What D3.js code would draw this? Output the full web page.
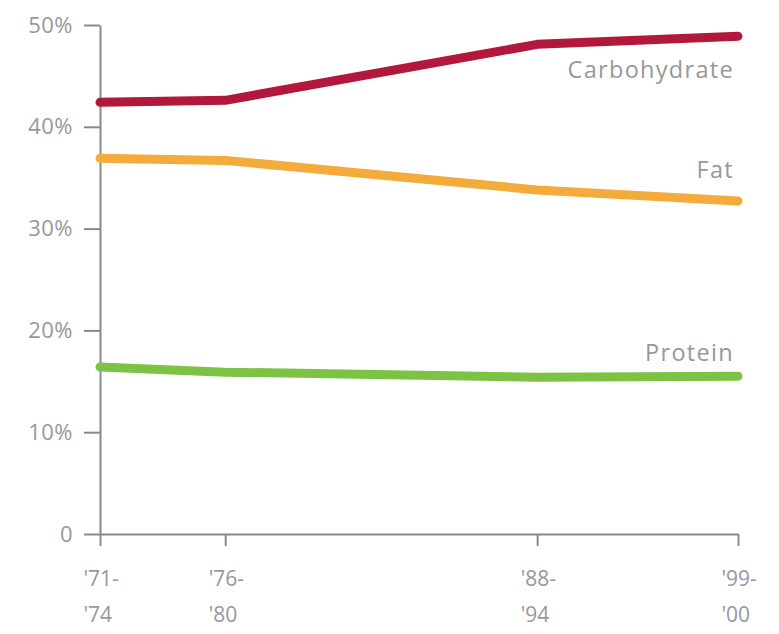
<!DOCTYPE html>
<html>
<head>
<meta charset="utf-8">
<script src="https://cdn.jsdelivr.net/npm/d3@7"></script>
<style>
  html, body { margin: 0; padding: 0; background: #fff; }
  svg { display: block; }
  text { font-family: "Open Sans", "Noto Sans", sans-serif; }
</style>
</head>
<body>
<svg id="chart" width="779" height="634"></svg>
<script>
// ---- data ----
const periods = ["'71-\n'74", "'76-\n'80", "'88-\n'94", "'99-\n'00"];
const periodMid = [1972.5, 1977.8, 1991, 1999.5];
const carbohydrate = [42.4, 42.6, 48.1, 48.9];
const fat = [36.9, 36.7, 33.8, 32.7];
const protein = [16.4, 15.9, 15.4, 15.5];
const yTicks = [0, 10, 20, 30, 40, 50];
const seriesNames = ["Carbohydrate", "Fat", "Protein"];
const seriesColors = ["#b2183b", "#f3ab3c", "#7cc243"];

const FONT = "'Open Sans', 'Noto Sans', sans-serif";
const svg = d3.select("#chart");
const x = d3.scaleLinear().domain([1972.5, 1999.5]).range([100, 738]);
const y = d3.scaleLinear().domain([0, 50]).range([534, 25]);
const axisColor = "#8a8a8a";
const textColor = "#989898";

// y axis
const gy = svg.append("g").attr("transform", "translate(100,0)")
  .call(d3.axisLeft(y).tickValues(yTicks).tickSize(16).tickSizeOuter(0)
    .tickFormat(d => d === 0 ? "0" : d + "%"));
gy.attr("font-family", FONT);
gy.select(".domain").attr("stroke", axisColor).attr("stroke-width", 2);
gy.selectAll(".tick line").attr("stroke", axisColor).attr("stroke-width", 2);
gy.selectAll(".tick text").attr("fill", textColor).attr("font-size", 22)
  .attr("font-family", FONT).attr("letter-spacing", 0.5).attr("x", -27);

// x axis
const gx = svg.append("g").attr("transform", "translate(0,534)")
  .call(d3.axisBottom(x).tickValues(periodMid).tickSize(12).tickSizeOuter(0).tickFormat(""));
gx.attr("font-family", FONT);
gx.select(".domain").attr("stroke", axisColor).attr("stroke-width", 2);
gx.selectAll(".tick line").attr("stroke", axisColor).attr("stroke-width", 2);
gx.selectAll(".tick").each(function(d, i) {
  const lines = periods[i].split("\n");
  const t = d3.select(this).append("text")
    .attr("fill", textColor).attr("font-size", 21).attr("font-family", FONT)
    .attr("text-anchor", "start");
  lines.forEach((l, j) => {
    t.append("tspan").attr("x", -17).attr("y", 52 + j * 36).text(l);
  });
});

// lines
const allSeries = [carbohydrate, fat, protein];
const line = d3.line()
  .x((d, i) => x(periodMid[i]))
  .y(d => y(d))
  .curve(d3.curveLinear);

allSeries.forEach((s, k) => {
  svg.append("path").datum(s)
    .attr("fill", "none")
    .attr("stroke", seriesColors[k])
    .attr("stroke-width", 9)
    .attr("stroke-linecap", "round")
    .attr("stroke-linejoin", "round")
    .attr("d", line);
});

// labels
const labelY = [78, 178, 361];
seriesNames.forEach((n, k) => {
  svg.append("text")
    .attr("x", 734).attr("y", labelY[k])
    .attr("text-anchor", "end")
    .attr("fill", textColor).attr("font-size", 23.5).attr("font-family", FONT)
    .attr("letter-spacing", 1.3)
    .text(n);
});
</script>
</body>
</html>
